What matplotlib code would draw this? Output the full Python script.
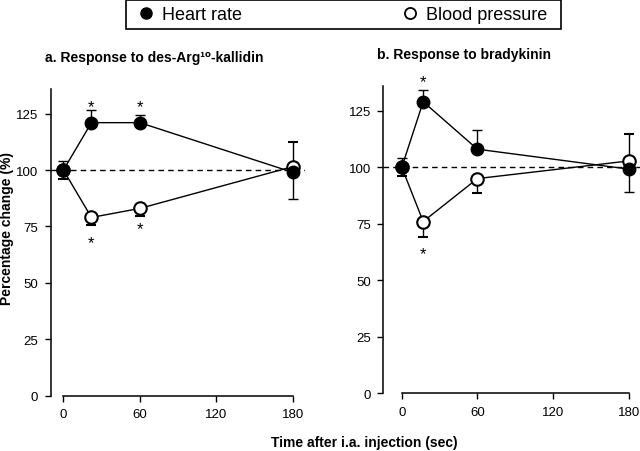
import matplotlib
matplotlib.use("Agg")
import matplotlib.pyplot as plt
from matplotlib.lines import Line2D
from matplotlib.patches import Rectangle

plt.rcParams['font.family'] = ['Liberation Sans', 'DejaVu Sans']

# ---- data ----
# panel a: des-Arg10-kallidin
a_time = [0, 22, 60, 180]
a_hr = [100, 121, 121, 99]
a_hr_lo = [0, 0, 0, 12]
a_hr_hi = [4, 5.5, 3.5, 0]
a_bp = [100, 79, 83, 101.5]
a_bp_lo = [4, 3.5, 3.5, 0]
a_bp_hi = [0, 0, 0, 11]
a_star_x = [22, 60, 22, 60]
a_star_y = [128, 128, 68, 74]

# panel b: bradykinin
b_time = [0, 17, 60, 180]
b_hr = [100, 129, 108, 99.2]
b_hr_lo = [0, 0, 0, 10.3]
b_hr_hi = [4.3, 5.3, 8.5, 0]
b_bp = [100, 76, 95, 102.8]
b_bp_lo = [3.7, 6.7, 6.6, 0]
b_bp_hi = [0, 0, 0, 12]
b_star_x = [17, 17]
b_star_y = [138, 62]

titles = ['a. Response to des-Arg\u00b9\u2070-kallidin', 'b. Response to bradykinin']
xticks = [0, 60, 120, 180]
yticks = [0, 25, 50, 75, 100, 125]

fig = plt.figure(figsize=(6.4, 4.52), dpi=100)
ax_a = fig.add_axes([0.0792, 0.1223, 0.398, 0.679])
ax_b = fig.add_axes([0.599, 0.1277, 0.403, 0.680])

panels = [
    (ax_a, a_time, a_hr, a_hr_lo, a_hr_hi, a_bp, a_bp_lo, a_bp_hi, a_star_x, a_star_y, -10, 0.406),
    (ax_b, b_time, b_hr, b_hr_lo, b_hr_hi, b_bp, b_bp_lo, b_bp_hi, b_star_x, b_star_y, -14.6, 0.311),
]

for i, (ax, t, hr, hr_lo, hr_hi, bp, bp_lo, bp_hi, sx, sy, xmin, tx) in enumerate(panels):
    ax.axhline(100, color='k', lw=1, ls=(0, (4, 3)), zorder=1)
    # blood pressure first so heart rate sits on top
    ax.errorbar(t, bp, yerr=[bp_lo, bp_hi], fmt='-o', color='k', mfc='white', mec='k',
                mew=1.5, ms=9, lw=1, elinewidth=1, capsize=3.5, capthick=1, zorder=3)
    ax.errorbar(t, hr, yerr=[hr_lo, hr_hi], fmt='-o', color='k', mfc='k', mec='k',
                ms=9, lw=1, elinewidth=1, capsize=3.5, capthick=1, zorder=4)
    for x, y in zip(sx, sy):
        ax.text(x, y, '*', ha='center', va='center', fontsize=12, clip_on=False)

    ax.set_xlim(xmin, 190)
    ax.set_ylim(0, 136)
    ax.set_xticks(xticks)
    ax.set_yticks(yticks)
    ax.spines['top'].set_visible(False)
    ax.spines['right'].set_visible(False)
    ax.spines['bottom'].set_bounds(0, 180)
    ax.spines['left'].set_linewidth(1.1)
    ax.spines['bottom'].set_linewidth(1.1)
    ax.tick_params(direction='out', length=4, width=1, labelsize=9.5, pad=5)
    ax.patch.set_visible(False)
    ax.set_title(titles[i], fontsize=10, fontweight='bold', pad=20, x=tx)

ax_a.set_ylabel('Percentage change (%)', fontsize=10, fontweight='bold')
ax_a.yaxis.set_label_coords(-0.145, 0.548)
fig.text(0.57, 1 - 443 / 452, 'Time after i.a. injection (sec)', ha='center', va='center',
         fontsize=10, fontweight='bold')

# legend box across the top
fig.patches.append(Rectangle((126 / 640, 1 - 30 / 452), 435 / 640, 29 / 452,
                             transform=fig.transFigure, fill=False, ec='k', lw=1.2))
handles = [
    Line2D([], [], marker='o', ls='none', mfc='k', mec='k', ms=8),
    Line2D([], [], marker='o', ls='none', mfc='white', mec='k', mew=1.3, ms=8),
]
fig.legend(handles, ['Heart rate', 'Blood pressure'], ncol=2, mode='expand',
           bbox_to_anchor=(139 / 640, 1 - 29 / 452, 408 / 640, 27 / 452),
           loc='center', fontsize=13, frameon=False,
           handlelength=0.8, handletextpad=0.5, borderpad=0, borderaxespad=0)

fig.savefig('out.png', dpi=100)
